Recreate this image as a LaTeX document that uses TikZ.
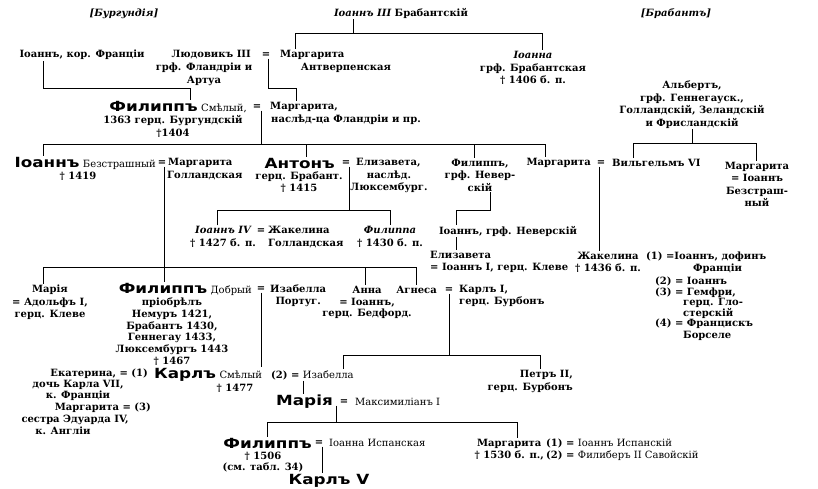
\documentclass[tikz,border=0pt]{standalone}
\usepackage{fontspec}
\setmainfont{DejaVu Serif}
\newfontfamily\bnfam{DejaVu Sans}[FakeStretch=1.2]
\newcommand{\bn}[1]{{\fontsize{14}{14}\bnfam\bfseries #1}}
\begin{document}
\begin{tikzpicture}[x=1pt,y=-1pt,
  every node/.style={inner sep=1pt,font=\fontsize{10}{12.5}\selectfont\bfseries},
  ln/.style={line width=0.7pt,black}]
\fill[white] (0,0) rectangle (818,488);
\useasboundingbox (0,0) rectangle (818,488);

% ---- top
\node (burg) at (124,14) {\itshape [Бургундія]};
\node (i3) at (401,13) {{\itshape Іоаннъ III} Брабантскій};
\node (brabt) at (676,14) {\itshape [Брабантъ]};

\node (ifr) at (82,55) {Іоаннъ, кор. Франціи};
\node[anchor=east] (lud) at (252,55) {Людовикъ III};
\node (eqA) at (266,55) {=};
\node[anchor=west] (margA) at (279,55) {Маргарита};
\node[align=center] (ludg) at (204,74.5) {грф. Фландріи и\\Артуа};
\node (antw) at (346,68) {Антверпенская};
\node[align=center] (ioanna) at (533,68) {{\itshape Іоанна}\\грф. Брабантская\\† 1406 б. п.};
\node[align=center] (alb) at (692,104.5) {Альбертъ,\\грф. Геннегауск.,\\Голландскій, Зеландскій\\и Фрисландскій};

\node[anchor=east] (fil1) at (248,107) {\bn{Филиппъ} {\mdseries Смѣлый,}};
\node (eqB) at (257,107) {=};
\node[anchor=west] (margB) at (269,107) {Маргарита,};
\node[align=center] (fil1b) at (173,126.5) {1363 герц. Бургундскій\\†1404};
\node[anchor=west] (margB2) at (270,120) {наслѣд-ца Фландріи и пр.};

% ---- row 163
\node[anchor=east] (ioB) at (157,163) {\bn{Іоаннъ} {\mdseries Безстрашный}};
\node (eqC) at (162,163) {=};
\node[anchor=west] (margC) at (167,163) {Маргарита};
\node (ioB2) at (78,176) {† 1419};
\node[anchor=west] (margC2) at (166,176) {Голландская};

\node[anchor=east] (anton) at (336,163) {\bn{Антонъ}};
\node (eqD) at (346,163) {=};
\node[anchor=west] (eliz) at (355,163) {Елизавета,};
\node[align=center] (anton2) at (299,182) {герц. Брабант.\\† 1415};
\node[align=center] (eliz2) at (389,182) {наслѣд.\\Люксембург.};
\node[align=center] (filN) at (480,175) {Филиппъ,\\грф. Невер-\\скій};
\node[anchor=east] (margD) at (592,163) {Маргарита};
\node (eqE) at (601,163) {=};
\node[anchor=west] (wilh) at (611,163) {Вильгельмъ VI};
\node[align=center] (margE) at (757,184.5) {Маргарита\\= Іоаннъ\\Безстраш-\\ный};

% ---- row 231
\node[align=center] (i4) at (223,237) {{\itshape Іоаннъ IV}\\† 1427 б. п.};
\node (eqF) at (261,231) {=};
\node[anchor=west,align=left] (jak) at (267,237) {Жакелина\\Голландская};
\node[align=center] (filippa) at (390,237) {{\itshape Филиппа}\\† 1430 б. п.};
\node (ioN) at (508,231) {Іоаннъ, грф. Неверскій};
\node[anchor=west,align=left] (elizK) at (429,262) {Елизавета\\= Іоаннъ I, герц. Клеве};
\node[anchor=east,align=center] (jak2) at (642,262.5) {Жакелина\\† 1436 б. п.};
\node[anchor=west] (jm1) at (645,257) {(1) =Іоаннъ, дофинъ};
\node[anchor=west] (jm2) at (692,269) {Франціи};
\node[anchor=west] (jm3) at (654,281) {(2) = Іоаннъ};
\node[anchor=west] (jm4) at (654,293) {(3) = Гемфри,};
\node[anchor=west] (jm5) at (682,303) {герц. Гло-};
\node[anchor=west] (jm6) at (682,313) {стерскій};
\node[anchor=west] (jm7) at (654,324) {(4) = Францискъ};
\node[anchor=west] (jm8) at (682,336) {Борселе};

% ---- row 290
\node[align=center] (mariaL) at (50,302.5) {Марія\\= Адольфъ I,\\герц. Клеве};
\node[anchor=east] (filD) at (253,289) {\bn{Филиппъ} {\mdseries Добрый}};
\node (eqG) at (261,289) {=};
\node[anchor=west,align=center] (isab) at (269,295.5) {Изабелла\\Португ.};
\node[align=center,font=\fontsize{10}{11.8}\selectfont\bfseries] (filD2) at (172,331.5) {пріобрѣлъ\\Немуръ 1421,\\Брабантъ 1430,\\Геннегау 1433,\\Люксембургъ 1443\\† 1467};
\node[align=center,font=\fontsize{10}{11.8}\selectfont\bfseries] (anna) at (367,302.5) {Анна\\= Іоаннъ,\\герц. Бедфорд.};
\node[anchor=east] (agn) at (438,290) {Агнеса};
\node (eqH) at (449,290) {=};
\node[anchor=west,align=left] (karlI) at (458,296) {Карлъ I,\\герц. Бурбонъ};

% ---- row 375
\node[anchor=east] (ek) at (149,374) {Екатерина, = (1)};
\node[align=center,font=\fontsize{10}{11}\selectfont\bfseries] (ek2) at (78,390.5) {дочь Карла VII,\\к. Франціи};
\node[anchor=east] (m3) at (152,408) {Маргарита = (3)};
\node (m3b) at (75,420) {сестра Эдуарда IV,};
\node (m3c) at (63,431) {к. Англіи};
\node (karl) at (208,375) {\bn{Карлъ} {\mdseries Смѣлый}};
\node (karl2) at (235,388) {† 1477};
\node[anchor=west] (isab2) at (270,375) {(2) = {\mdseries Изабелла}};
\node[anchor=east,align=right] (petr) at (574,381.5) {Петръ II,\\герц. Бурбонъ};

% ---- row 402
\node[anchor=east] (mariaB) at (334,402) {\bn{Марія}};
\node (eqI) at (344,402) {=};
\node[anchor=west] (maks) at (354,402) {\mdseries Максимиліанъ I};

% ---- row 443
\node[anchor=east] (filF) at (313,443) {\bn{Филиппъ}};
\node (eqJ) at (319,443) {=};
\node[anchor=west] (ioI) at (328,443) {\mdseries Іоанна Испанская};
\node[align=center,font=\fontsize{10}{11}\selectfont\bfseries] (filF2) at (263,462.5) {† 1506\\(см. табл. 34)};
\node (karl5) at (329,481) {\bn{Карлъ V}};
\node[anchor=east,align=center] (mar1) at (545,449.5) {Маргарита\\† 1530 б. п.,};
\node[anchor=west,align=left] (mar2) at (545,449.5) {(1) = {\mdseries Іоаннъ Испанскій}\\(2) = {\mdseries Филиберъ II Савойскій}};

% ---- connectors
\coordinate (a0) at (353,33); \coordinate (a1) at (295,33); \coordinate (a2) at (542,33);
\draw[ln] (i3.south -| a0) -- (a0);
\draw[ln] (a1 |- margA.north) -- (a1) -- (a2) -- (a2 |- ioanna.north);

\coordinate (c1) at (43,88); \coordinate (c2) at (190,88);
\draw[ln] (ifr.south -| c1) -- (c1) -- (c2) -- (c2 |- fil1.north);

\coordinate (d1) at (268,88); \coordinate (d2) at (296,88);
\draw[ln] (eqA.south -| d1) -- (d1) -- (d2) -- (d2 |- margB.north);

\coordinate (e0) at (261,144); \coordinate (e1) at (43,144); \coordinate (e2) at (545,144);
\coordinate (e3) at (306,144); \coordinate (e4) at (474,144);
\draw[ln] (eqB.south -| e0) -- (e0);
\draw[ln] (e1) -- (e2);
\draw[ln] (e1) -- (e1 |- ioB.north);
\draw[ln] (e3) -- (e3 |- anton.north);
\draw[ln] (e4) -- (e4 |- filN.north);
\draw[ln] (e2) -- (e2 |- margD.north);

\coordinate (f0) at (692,143); \coordinate (f1) at (633,143); \coordinate (f2) at (756,143);
\draw[ln] (alb.south -| f0) -- (f0);
\draw[ln] (f1 |- wilh.north) -- (f1) -- (f2) -- (f2 |- margE.north);

\coordinate (g0) at (164,267); \coordinate (g1) at (43,267); \coordinate (g2) at (416,267);
\coordinate (g3) at (365,267);
\draw[ln] (eqC.south -| g0) -- (g0 |- filD.north);
\draw[ln] (g1) -- (g2);
\draw[ln] (g1) -- (g1 |- mariaL.north);
\draw[ln] (g3) -- (g3 |- anna.north);
\draw[ln] (g2) -- (g2 |- agn.north);

\coordinate (h0) at (349,210); \coordinate (h1) at (217,210); \coordinate (h2) at (390,210);
\draw[ln] (eqD.south -| h0) -- (h0);
\draw[ln] (h1 |- i4.north) -- (h1) -- (h2) -- (h2 |- filippa.north);

\coordinate (k0) at (490,210); \coordinate (k1) at (456,210);
\draw[ln] (filN.south -| k0) -- (k0) -- (k1) -- (k1 |- ioN.north);
\draw[ln] (ioN.south -| k1) -- (k1 |- elizK.north);

\coordinate (l0) at (599,250);
\draw[ln] (eqE.south -| l0) -- (l0 |- jak2.north);

\coordinate (m0) at (261,300);
\draw[ln] (eqG.south -| m0) -- (m0 |- karl.north);

\coordinate (n0) at (449,355); \coordinate (n1) at (343,355); \coordinate (n2) at (540,355);
\draw[ln] (eqH.south -| n0) -- (n0);
\draw[ln] (n1 |- isab2.north) -- (n1) -- (n2) -- (n2 |- petr.north);

\coordinate (o0) at (303,390);
\draw[ln] (isab2.south -| o0) -- (o0 |- mariaB.north);

\coordinate (p0) at (336,422); \coordinate (p1) at (267,422); \coordinate (p2) at (517,422);
\draw[ln] (eqI.south -| p0) -- (p0);
\draw[ln] (p1 |- filF.north) -- (p1) -- (p2) -- (p2 |- mar1.north);

\coordinate (q0) at (322,470);
\draw[ln] (eqJ.south -| q0) -- (q0 |- karl5.north);
\end{tikzpicture}
\end{document}
